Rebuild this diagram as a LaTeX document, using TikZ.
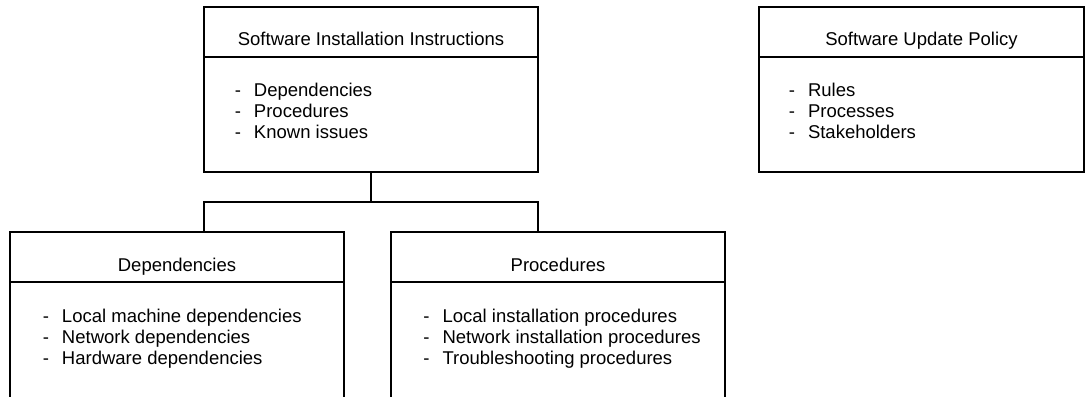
\documentclass[tikz,border=0pt]{standalone}
\usepackage{fontspec}
\setmainfont{Liberation Sans}
\usepackage{tikz}
\usetikzlibrary{positioning}

\tikzset{
  box/.style={draw, line width=1pt, minimum width=167pt, inner sep=0pt, outer sep=0pt},
  head/.style={box, minimum height=25pt, text height=13.5pt, text depth=0pt},
  body/.style={box, minimum height=57.5pt},
  items/.style={anchor=base west, inner sep=0pt},
  link/.style={line width=1pt}
}
\newcommand{\itm}{\makebox[9.6pt][l]{-}}
\newenvironment{itemlist}{\begin{tabular}[t]{@{}l@{}}}{\end{tabular}}

\begin{document}
\begin{tikzpicture}[x=0.5pt, y=0.5pt, font=\fontsize{9.25pt}{10.4pt}\selectfont]
        \useasboundingbox (0,0) rectangle (1085,396);
        \clip (0,0) rectangle (1085,396);
        % Instructions
        \node[head, anchor=north west] (sii) at (204,389) {Software Installation Instructions};
        \node[body, below=0pt of sii] (siibody) {};
        \node[items] (siilist) at ([xshift=15.2pt, yshift=-20pt]siibody.north west)
            {\begin{itemlist}\itm Dependencies\\ \itm Procedures\\ \itm Known issues\end{itemlist}};
        % Politique de mise a jour
        \node[head, anchor=north west, minimum width=162.5pt] (policy) at (759,389) {Software Update Policy};
        \node[body, minimum width=162.5pt, below=0pt of policy] (policybody) {};
        \node[items] (policylist) at ([xshift=14.7pt, yshift=-20pt]policybody.north west)
            {\begin{itemlist}\itm Rules\\ \itm Processes\\ \itm Stakeholders\end{itemlist}};
        % Dependances
        \node[head, anchor=north west] (dep) at (10,163.5) {Dependencies};
        \node[body, minimum height=90pt, below=0pt of dep] (depbody) {};
        \node[items] (deplist) at ([xshift=16.2pt, yshift=-20pt]depbody.north west)
            {\begin{itemlist}\itm Local machine dependencies\\ \itm Network dependencies\\ \itm Hardware dependencies\end{itemlist}};
        % Procedures
        \node[head, right=23.5pt of dep] (proc) {Procedures};
        \node[body, minimum height=90pt, below=0pt of proc] (procbody) {};
        \node[items] (proclist) at ([xshift=16pt, yshift=-20pt]procbody.north west)
            {\begin{itemlist}\itm Local installation procedures\\ \itm Network installation procedures\\ \itm Troubleshooting procedures\end{itemlist}};
        % Liens
        \draw[link] (siibody.south) -- ++(0,-30) coordinate (fork);
        \draw[link] (dep.north -| siibody.south west) -- (siibody.south west |- fork)
            -- (siibody.south east |- fork) -- (proc.north -| siibody.south east);
    \end{tikzpicture}
\end{document}
